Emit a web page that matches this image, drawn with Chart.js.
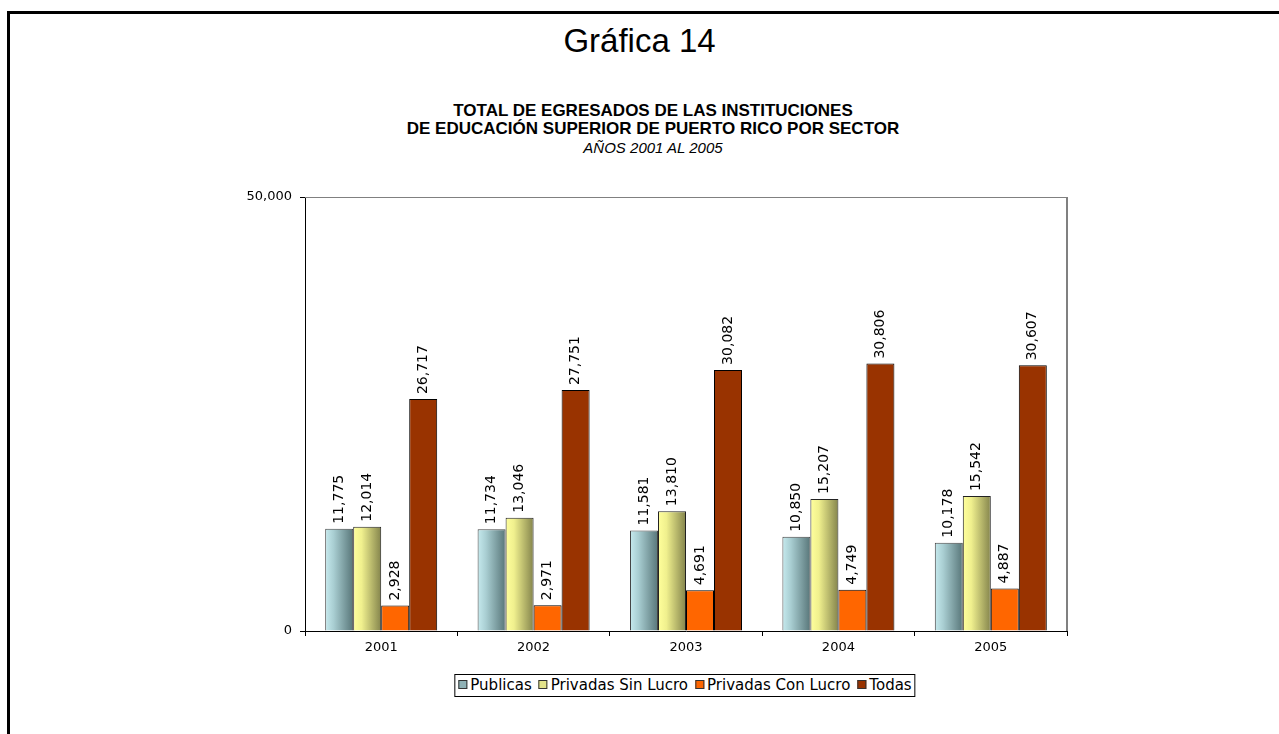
<!DOCTYPE html>
<html>
<head>
<meta charset="utf-8">
<script src="https://cdn.jsdelivr.net/npm/chart.js@4.4.1/dist/chart.umd.min.js"></script>
<style>
  html, body { margin: 0; padding: 0; background: #fff; }
  body { width: 1279px; height: 734px; position: relative; overflow: hidden; font-family: "Liberation Sans", Arial, sans-serif; color: #000; }
  #frame { position: absolute; left: 7px; top: 11px; width: 1290px; height: 740px; border-top: 3px solid #000; border-left: 3px solid #000; }
  #grafica { position: absolute; left: 0; width: 1279px; top: 24px; text-align: center; font-size: 33px; line-height: 33px; }
  #titulo { position: absolute; left: 353px; width: 600px; top: 102px; text-align: center; font-size: 17px; line-height: 18px; font-weight: bold; }
  #subtitulo { position: absolute; left: 353px; width: 600px; top: 140px; text-align: center; font-size: 15px; line-height: 15px; font-style: italic; }
  #leyenda { position: absolute; left: 685px; top: 674px; transform: translateX(-50%); border: 1px solid #000; padding: 1px 3px 1px 3px; white-space: nowrap; font-family: "DejaVu Sans", sans-serif; font-size: 15px; line-height: 19px; background: #fff; }
  #leyenda span.item { margin-right: 7px; }
  #leyenda span.item:last-child { margin-right: 0; }
  #leyenda i { display: inline-block; width: 7px; height: 7px; border: 1px solid #333; margin-right: 3px; vertical-align: 1px; }
  canvas { position: absolute; left: 0; top: 0; }
</style>
</head>
<body>
<div id="frame"></div>
<div id="grafica">Gráfica 14</div>
<div id="titulo">TOTAL DE EGRESADOS DE LAS INSTITUCIONES<br>DE EDUCACIÓN SUPERIOR DE PUERTO RICO POR SECTOR</div>
<div id="subtitulo">AÑOS 2001 AL 2005</div>
<canvas id="grafico" width="1279" height="734"></canvas>
<div id="leyenda"></div>
<script>
// datos de la gráfica
const years = ["2001", "2002", "2003", "2004", "2005"];
const publicas = [11775, 11734, 11581, 10850, 10178];
const sinLucro = [12014, 13046, 13810, 15207, 15542];
const conLucro = [2928, 2971, 4691, 4749, 4887];
const todas = [26717, 27751, 30082, 30806, 30607];
const seriesNames = ["Publicas", "Privadas Sin Lucro", "Privadas Con Lucro", "Todas"];
const yTicks = [0, 50000];

const CAT_PCT = 0.735;
const fmt = (v) => v.toLocaleString("en-US");

// degradado horizontal de cada barra, calculado con la escala x
function barGradient(stops, fallback) {
  return function (ctx) {
    const chart = ctx.chart;
    const x = chart.scales.x;
    if (!x || ctx.type !== "data") return fallback;
    const nSets = chart.data.datasets.length;
    const cat = x.width / chart.data.labels.length;
    const bw = (cat * CAT_PCT) / nSets;
    const left = x.getPixelForValue(ctx.dataIndex) - (cat * CAT_PCT) / 2 + ctx.datasetIndex * bw;
    if (!isFinite(left) || !isFinite(bw) || bw <= 0) return fallback;
    const g = chart.ctx.createLinearGradient(left, 0, left + bw, 0);
    stops.forEach((s) => g.addColorStop(s[0], s[1]));
    return g;
  };
}

const swatches = ["#8fb2b6", "#e4e48a", "#ff6600", "#993300"];

// leyenda
const leyenda = document.getElementById("leyenda");
leyenda.innerHTML = seriesNames
  .map((n, i) => '<span class="item"><i style="background:' + swatches[i] + '"></i>' + n + "</span>")
  .join("");

// etiquetas de valor giradas sobre cada barra
const valueLabels = {
  id: "valueLabels",
  afterDatasetsDraw(chart) {
    const c = chart.ctx;
    c.save();
    c.font = '14px "DejaVu Sans"';
    c.fillStyle = "#000";
    c.textAlign = "left";
    c.textBaseline = "middle";
    chart.data.datasets.forEach((ds, i) => {
      chart.getDatasetMeta(i).data.forEach((bar, j) => {
        c.save();
        c.translate(bar.x, bar.y - 5);
        c.rotate(-Math.PI / 2);
        c.fillText(fmt(ds.data[j]), 0, 0);
        c.restore();
      });
    });
    c.restore();
  },
};

// borde gris arriba y a la derecha del área del gráfico
const plotFrame = {
  id: "plotFrame",
  beforeDatasetsDraw(chart) {
    const { left, right, top, bottom } = chart.chartArea;
    const c = chart.ctx;
    c.save();
    c.strokeStyle = "#808080";
    c.lineWidth = 1;
    c.beginPath();
    c.moveTo(left, top + 0.5);
    c.lineTo(right, top + 0.5);
    c.stroke();
    c.lineWidth = 2;
    c.beginPath();
    c.moveTo(right, top);
    c.lineTo(right, bottom);
    c.stroke();
    c.restore();
  },
};

const chart = new Chart(document.getElementById("grafico"), {
  type: "bar",
  data: {
    labels: years,
    datasets: [
      {
        label: seriesNames[0],
        data: publicas,
        backgroundColor: barGradient([[0, "#c6eaee"], [0.3, "#a9ced2"], [1, "#587679"]], "#8fb2b6"),
        borderColor: "#444",
        borderWidth: 1,
      },
      {
        label: seriesNames[1],
        data: sinLucro,
        backgroundColor: barGradient([[0, "#ffff9c"], [0.3, "#f0f08e"], [1, "#84844c"]], "#e4e48a"),
        borderColor: "#222",
        borderWidth: 1,
      },
      {
        label: seriesNames[2],
        data: conLucro,
        backgroundColor: "#ff6600",
        borderColor: "#000",
        borderWidth: 1,
      },
      {
        label: seriesNames[3],
        data: todas,
        backgroundColor: "#993300",
        borderColor: "#000",
        borderWidth: 1,
      },
    ],
  },
  options: {
    responsive: false,
    animation: false,
    devicePixelRatio: 1,
    layout: { padding: { left: 235, right: 212, top: 197, bottom: 73 } },
    datasets: { bar: { categoryPercentage: CAT_PCT, barPercentage: 1 } },
    plugins: { legend: { display: false }, tooltip: { enabled: false } },
    scales: {
      x: {
        grid: { drawOnChartArea: false, tickLength: 5, tickColor: "#000", offset: true },
        border: { color: "#000", width: 1 },
        ticks: { color: "#000", font: { family: "DejaVu Sans", size: 13 }, padding: 4, maxRotation: 0 },
        afterFit(s) { s.height = 30; },
      },
      y: {
        min: 0,
        max: 50000,
        afterBuildTicks(s) { s.ticks = yTicks.map((v) => ({ value: v })); },
        grid: { drawOnChartArea: false, tickLength: 5, tickColor: "#000" },
        border: { color: "#000", width: 1 },
        ticks: { color: "#000", font: { family: "DejaVu Sans", size: 13 }, padding: 8, callback: (v) => fmt(v) },
        afterFit(s) { s.width = 70; },
      },
    },
  },
  plugins: [plotFrame, valueLabels],
});
</script>
</body>
</html>
